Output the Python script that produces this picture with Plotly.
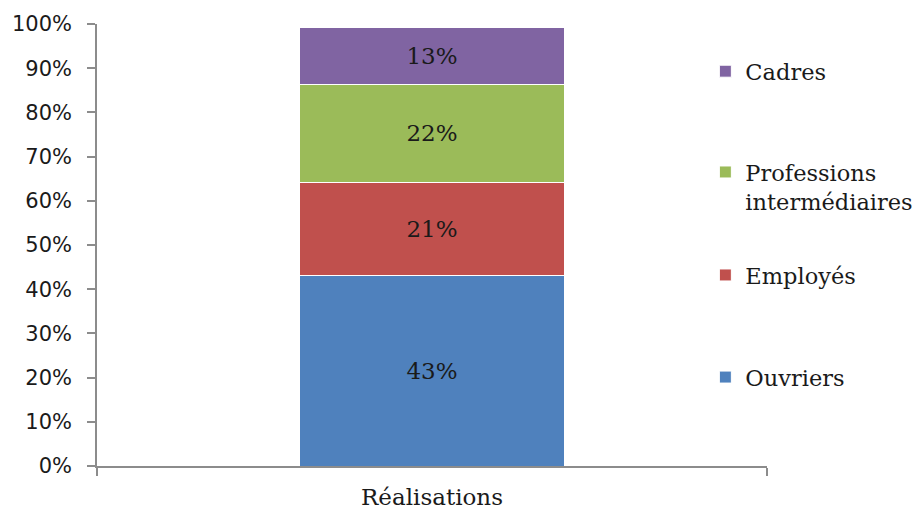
import plotly.graph_objects as go

categories = ["Réalisations"]
series_names = ["Ouvriers", "Employés", "Professions<br>intermédiaires", "Cadres"]
series_values = [[43.0], [21.2], [22.2], [12.9]]
series_labels = [["43%"], ["21%"], ["22%"], ["13%"]]
series_colors = ["#4F81BD", "#C0504D", "#9BBB59", "#8064A2"]
y_tick_values = [0, 10, 20, 30, 40, 50, 60, 70, 80, 90, 100]
y_tick_labels = ["0%", "10%", "20%", "30%", "40%", "50%", "60%", "70%", "80%", "90%", "100%"]

serif = "DejaVu Serif"
legend_ids = ["legend4", "legend3", "legend2", "legend"]
legend_tops = [0.249, 0.480, 0.713, 0.941]

fig = go.Figure()
for name, vals, labs, col, lid in zip(series_names, series_values, series_labels, series_colors, legend_ids):
    fig.add_trace(go.Bar(
        x=categories, y=vals, name=name,
        marker=dict(color=col, line=dict(color="white", width=1)),
        text=labs, textposition="inside", insidetextanchor="middle",
        textfont=dict(family=serif, size=23, color="#1a1a1a"),
        legend=lid, showlegend=True,
        hoverinfo="skip",
    ))

legend_common = dict(
    x=0.908, xanchor="left", yanchor="top",
    font=dict(family=serif, size=22.5, color="#1a1a1a"),
    valign="top", itemwidth=30, bgcolor="rgba(0,0,0,0)",
)

fig.update_layout(
    width=918, height=513,
    showlegend=True,
    barmode="stack", bargap=0.604,
    plot_bgcolor="white", paper_bgcolor="white",
    margin=dict(l=97, r=151, t=24, b=47, autoexpand=False),
    xaxis=dict(
        showline=True, linecolor="#8c8c8c", linewidth=1.5,
        ticks="outside", tickson="boundaries", ticklen=8, tickcolor="#8c8c8c", tickwidth=1.5,
        tickfont=dict(family=serif, size=23, color="#1a1a1a"),
        ticklabelstandoff=10,
        showgrid=False, zeroline=False,
    ),
    yaxis=dict(
        range=[0, 100], tickvals=y_tick_values, ticktext=y_tick_labels,
        showline=True, linecolor="#8c8c8c", linewidth=1.5,
        ticks="outside", ticklen=8, tickcolor="#8c8c8c", tickwidth=1.5,
        tickfont=dict(family="DejaVu Sans", size=21, color="#1a1a1a"),
        ticklabelstandoff=11,
        showgrid=False, zeroline=False,
    ),
)
for lid, top in zip(legend_ids, legend_tops):
    fig.update_layout({lid: dict(legend_common, y=top)})

fig.write_html("out.html")
